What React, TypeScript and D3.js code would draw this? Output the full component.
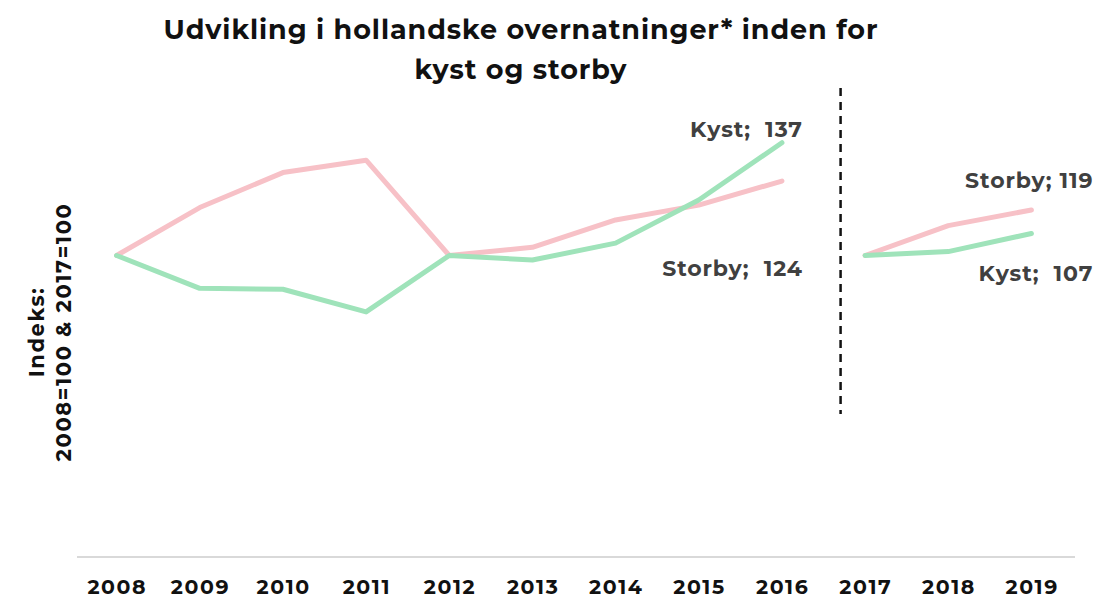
import React from "react";
import * as d3 from "d3";

const years = ["2008","2009","2010","2011","2012","2013","2014","2015","2016","2017","2018","2019"];
const kystA = [100, 89.1, 88.8, 81.3, 100, 98.5, 104.1, 118.4, 137.4];
const storbyA = [100, 115.9, 127.5, 131.6, 100, 102.7, 111.8, 116.7, 124.7];
const kystB = [100, 101.3, 107.3];
const storbyB = [100, 109.9, 115.1];
const yearsA = years.slice(0, 9);
const yearsB = years.slice(9);
const labelsA = ["Kyst;  137", "Storby;  124"];
const labelsB = ["Storby; 119", "Kyst;  107"];

const W = 1101, H = 600;
const FONT = "Montserrat, 'Open Sans', 'DejaVu Sans', sans-serif";
const GREEN = "#9fe3ba";
const PINK = "#f7c1c7";

export default function App() {
  const x = d3.scaleBand<string>().domain(years).range([75, 1073]);
  const cx = (yr: string) => (x(yr) as number) + x.bandwidth() / 2;
  const y = d3.scaleLinear().domain([0, 160]).range([557, 74.6]);
  const line = (ys: string[]) =>
    d3.line<number>().x((_, i) => cx(ys[i])).y((v) => y(v));

  const dashX = cx("2017") - 24.5;
  const lastA = yearsA[yearsA.length - 1];
  const lastB = yearsB[yearsB.length - 1];
  const lbl = { fontSize: 22, fontWeight: 700, fill: "#404040", letterSpacing: 0.9 } as const;

  return (
    <svg width={W} height={H} style={{ display: "block", position: "absolute", left: 0, top: 0 }} fontFamily={FONT}>
      <rect width={W} height={H} fill="#fff" />
      <text x={521} y={39} textAnchor="middle" fontSize={27} fontWeight={700} fill="#111" letterSpacing={0.9}>
        Udvikling i hollandske overnatninger* inden for
      </text>
      <text x={521} y={79} textAnchor="middle" fontSize={27} fontWeight={700} fill="#111" letterSpacing={0.9}>
        kyst og storby
      </text>

      <g transform="translate(44,332) rotate(-90)">
        <text x={0} y={0} textAnchor="middle" fontSize={21} fontWeight={700} fill="#111" letterSpacing={1.6}>Indeks:</text>
        <text x={0} y={27} textAnchor="middle" fontSize={21} fontWeight={700} fill="#111" letterSpacing={1.6}>2008=100 &amp; 2017=100</text>
      </g>

      <line x1={77} x2={1075} y1={557} y2={557} stroke="#d9d9d9" strokeWidth={2} />
      {years.map((yr) => (
        <text key={yr} x={cx(yr) + 0.75} y={594} textAnchor="middle" fontSize={20.5} fontWeight={700} fill="#111" letterSpacing={1.6}>{yr}</text>
      ))}

      <line x1={dashX} x2={dashX} y1={88} y2={414} stroke="#111" strokeWidth={2.5} strokeDasharray="8,6" />

      <path d={line(yearsA)(storbyA) || ""} fill="none" stroke={PINK} strokeWidth={5} strokeLinejoin="round" strokeLinecap="round" />
      <path d={line(yearsA)(kystA) || ""} fill="none" stroke={GREEN} strokeWidth={5} strokeLinejoin="round" strokeLinecap="round" />
      <path d={line(yearsB)(storbyB) || ""} fill="none" stroke={PINK} strokeWidth={5} strokeLinejoin="round" strokeLinecap="round" />
      <path d={line(yearsB)(kystB) || ""} fill="none" stroke={GREEN} strokeWidth={5} strokeLinejoin="round" strokeLinecap="round" />

      <text x={cx(lastA) + 21} y={y(kystA[kystA.length - 1]) - 6} textAnchor="end" {...lbl} style={{ whiteSpace: "pre" }}>{labelsA[0]}</text>
      <text x={cx(lastA) + 21} y={y(storbyA[storbyA.length - 1]) + 95} textAnchor="end" {...lbl} style={{ whiteSpace: "pre" }}>{labelsA[1]}</text>
      <text x={cx(lastB) + 62} y={y(storbyB[storbyB.length - 1]) - 22} textAnchor="end" {...lbl} style={{ whiteSpace: "pre" }}>{labelsB[0]}</text>
      <text x={cx(lastB) + 62} y={y(kystB[kystB.length - 1]) + 48} textAnchor="end" {...lbl} style={{ whiteSpace: "pre" }}>{labelsB[1]}</text>
    </svg>
  );
}
